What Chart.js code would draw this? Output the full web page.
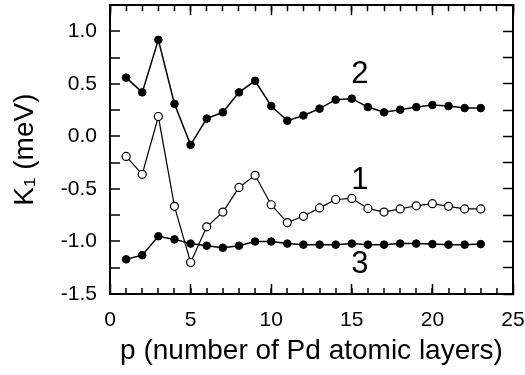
<!DOCTYPE html>
<html>
<head>
<meta charset="utf-8">
<script src="https://cdn.jsdelivr.net/npm/chart.js@4"></script>
<style>
  html, body { margin: 0; padding: 0; background: #fff; }
  #wrap { width: 525px; height: 375px; }
</style>
</head>
<body>
<div id="wrap"><canvas id="chart"></canvas></div>
<script>
// Data
const layers = [1, 2, 3, 4, 5, 6, 7, 8, 9, 10, 11, 12, 13, 14, 15, 16, 17, 18, 19, 20, 21, 22, 23];
const curve1 = [-0.19, -0.36, 0.19, -0.665, -1.2, -0.86, -0.72, -0.485, -0.37, -0.65, -0.82, -0.76, -0.68,
                -0.60, -0.59, -0.685, -0.72, -0.69, -0.66, -0.64, -0.665, -0.69, -0.69];
const curve2 = [0.56, 0.42, 0.92, 0.31, -0.08, 0.17, 0.23, 0.42, 0.53, 0.29, 0.15, 0.2, 0.265,
                0.35, 0.36, 0.28, 0.23, 0.255, 0.28, 0.30, 0.29, 0.27, 0.27];
const curve3 = [-1.17, -1.13, -0.95, -0.98, -1.02, -1.04, -1.06, -1.04, -1.0, -1.0, -1.02, -1.03, -1.03,
                -1.03, -1.02, -1.03, -1.03, -1.02, -1.02, -1.025, -1.03, -1.03, -1.025];
const curveNames = ['1', '2', '3'];
const labelX = [15.5, 15.5, 15.5];
const labelY = [-0.42, 0.587, -1.215];

const FONT = "'Liberation Sans', Arial, sans-serif";

function toPoints(ys) {
    return layers.map((p, i) => ({ x: p, y: ys[i] }));
}

// Black grid line only at the ends of the range, so the grid makes the frame
function edgeColor(lo, hi) {
    return function(context) {
        if (!context.tick) return 'rgba(0,0,0,0)';
        const v = context.tick.value;
        return (Math.abs(v - lo) < 1e-6 || Math.abs(v - hi) < 1e-6) ? '#000' : 'rgba(0,0,0,0)';
    };
}

// Curve numbers placed in data coordinates
const curveLabelPlugin = {
    id: 'curveLabels',
    afterDraw(chart) {
        const c = chart.ctx;
        const xs = chart.scales.x;
        const ys = chart.scales.y;
        c.save();
        c.fillStyle = '#000';
        c.font = '31px ' + FONT;
        c.textAlign = 'center';
        c.textBaseline = 'middle';
        curveNames.forEach((name, i) => {
            c.fillText(name, xs.getPixelForValue(labelX[i]), ys.getPixelForValue(labelY[i]));
        });
        c.restore();
    }
};

// Unlabeled axes that give the inward ticks
function tickAxis(axis, position, step, len, weight) {
    return {
        type: 'linear',
        axis: axis,
        position: position,
        weight: weight,
        min: axis === 'x' ? 0 : -1.5,
        max: axis === 'x' ? 25 : 1.25,
        afterFit: function(scale) {
            if (axis === 'x') scale.height = 0; else scale.width = 0;
            scale.paddingLeft = 0; scale.paddingRight = 0;
            scale.paddingTop = 0; scale.paddingBottom = 0;
        },
        grid: {
            display: true,
            drawOnChartArea: false,
            drawTicks: true,
            tickLength: -len,
            tickWidth: 1.5,
            tickColor: '#000'
        },
        border: { display: true, color: '#000', width: 2 },
        ticks: { display: false, stepSize: step, autoSkip: false, includeBounds: false }
    };
}

function drawChart() {
    new Chart(document.getElementById('chart'), {
        type: 'line',
        data: {
            datasets: [
                {
                    label: '3',
                    data: toPoints(curve3),
                    borderColor: '#000',
                    borderWidth: 1.5,
                    pointRadius: 3.8,
                    pointBackgroundColor: '#000',
                    pointBorderColor: '#000',
                    pointBorderWidth: 1
                },
                {
                    label: '2',
                    data: toPoints(curve2),
                    borderColor: '#000',
                    borderWidth: 1.5,
                    pointRadius: 3.8,
                    pointBackgroundColor: '#000',
                    pointBorderColor: '#000',
                    pointBorderWidth: 1
                },
                {
                    label: '1',
                    data: toPoints(curve1),
                    borderColor: '#000',
                    borderWidth: 1.2,
                    pointRadius: 4,
                    pointBackgroundColor: '#fff',
                    pointBorderColor: '#000',
                    pointBorderWidth: 1.2
                }
            ]
        },
        options: {
            responsive: true,
            maintainAspectRatio: false,
            animation: false,
            layout: {
                padding: { top: 5, right: 12, left: 0, bottom: 0 }
            },
            plugins: {
                legend: { display: false },
                tooltip: { enabled: false }
            },
            scales: {
                xMajor: tickAxis('x', 'bottom', 5, 10, 0),
                x: {
                    type: 'linear',
                    position: 'bottom',
                    weight: 1,
                    min: 0,
                    max: 25,
                    afterFit: function(scale) {
                        scale.height = 81;
                        scale.paddingLeft = 0;
                        scale.paddingRight = 0;
                    },
                    grid: {
                        display: true,
                        drawOnChartArea: true,
                        drawTicks: true,
                        tickLength: -6,
                        tickWidth: 1.5,
                        tickColor: '#000',
                        lineWidth: 2,
                        color: edgeColor(0, 25)
                    },
                    border: { display: true, color: '#000', width: 2 },
                    ticks: {
                        stepSize: 1,
                        autoSkip: false,
                        padding: 20,
                        maxRotation: 0,
                        color: '#000',
                        font: { family: FONT, size: 21 },
                        callback: function(value) { return value % 5 === 0 ? String(value) : ''; }
                    },
                    title: {
                        display: true,
                        text: 'p (number of Pd atomic layers)',
                        color: '#000',
                        font: { family: FONT, size: 28 },
                        padding: { top: 0, bottom: 7 }
                    }
                },
                xTopMajor: tickAxis('x', 'top', 5, 10, 0),
                xTop: tickAxis('x', 'top', 1, 6, 1),
                y: {
                    type: 'linear',
                    position: 'left',
                    min: -1.5,
                    max: 1.25,
                    afterFit: function(scale) {
                        scale.width = 110;
                        scale.paddingTop = 0;
                        scale.paddingBottom = 0;
                    },
                    grid: {
                        display: true,
                        drawOnChartArea: true,
                        drawTicks: true,
                        tickLength: -10,
                        tickWidth: 1.5,
                        tickColor: '#000',
                        lineWidth: 2,
                        color: edgeColor(-1.5, 1.25)
                    },
                    border: { display: true, color: '#000', width: 2 },
                    ticks: {
                        stepSize: 0.25,
                        autoSkip: false,
                        includeBounds: false,
                        padding: 23,
                        color: '#000',
                        font: { family: FONT, size: 21 },
                        callback: function(value) {
                            const half = value * 2;
                            return Math.abs(half - Math.round(half)) < 1e-6 ? value.toFixed(1) : '';
                        }
                    },
                    title: {
                        display: true,
                        text: 'K\u2081 (meV)',
                        color: '#000',
                        font: { family: FONT, size: 28 },
                        padding: { top: 8, bottom: 0 }
                    }
                },
                yRight: tickAxis('y', 'right', 0.25, 10, 0)
            }
        },
        plugins: [curveLabelPlugin]
    });
}

drawChart();
</script>
</body>
</html>
